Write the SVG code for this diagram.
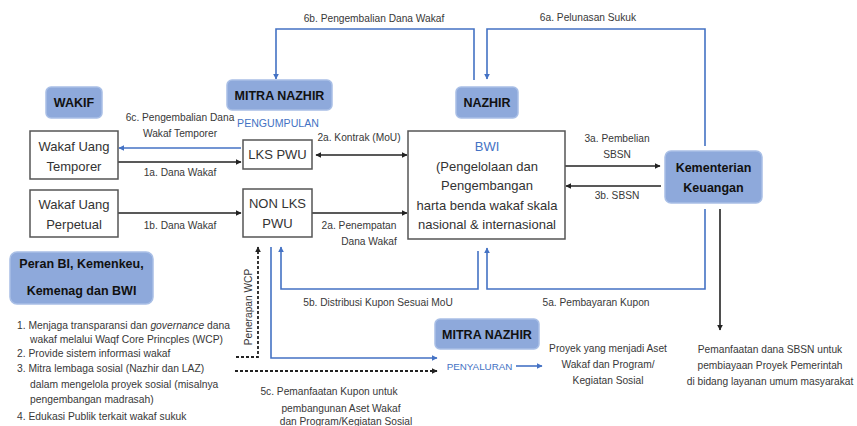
<svg xmlns="http://www.w3.org/2000/svg" width="857" height="426" viewBox="0 0 857 426">
<style>
text{font-family:"Liberation Sans",Arial,sans-serif;fill:#333}
.bx{fill:#fff;stroke:#555;stroke-width:1.5}
.bb{fill:#8EA9DB;stroke:#A9BFE6;stroke-width:1.5}
.hd{font-weight:bold;fill:#111;font-size:12.5px;text-anchor:middle}
.nd{font-size:13px;text-anchor:middle;fill:#333}
.lb{font-size:10.2px;text-anchor:middle;fill:#383838}
.li{font-size:10.3px;fill:#383838}
.k{fill:none;stroke:#222;stroke-width:1.6}
.b{fill:none;stroke:#4472C4;stroke-width:1.6}
.d{fill:none;stroke:#222;stroke-width:1.8;stroke-dasharray:3 2}
</style>
<defs>
<marker id="ak" viewBox="0 0 10 10" refX="9" refY="5" markerWidth="6" markerHeight="6" markerUnits="userSpaceOnUse" orient="auto-start-reverse"><path d="M0,0L10,5L0,10z" fill="#222"/></marker>
<marker id="ab" viewBox="0 0 10 10" refX="9" refY="5" markerWidth="6" markerHeight="6" markerUnits="userSpaceOnUse" orient="auto"><path d="M0,0L10,5L0,10z" fill="#4472C4"/></marker>
</defs>
<rect width="857" height="426" fill="#fff"/>
<g id="connectors">
<path class="b" d="M474,80V29H276V79" marker-end="url(#ab)"/>
<path class="b" d="M705,146V29H487V79" marker-end="url(#ab)"/>
<path class="b" d="M241,148H119" marker-end="url(#ab)"/>
<path class="k" d="M118,162H241" marker-end="url(#ak)"/>
<path class="k" d="M316,155H407" marker-start="url(#ak)" marker-end="url(#ak)"/>
<path class="k" d="M118,213H241" marker-end="url(#ak)"/>
<path class="k" d="M312,213H407" marker-end="url(#ak)"/>
<path class="k" d="M565,166H660" marker-end="url(#ak)"/>
<path class="k" d="M661,186H566" marker-end="url(#ak)"/>
<path class="b" d="M705,209V289H487V248" marker-end="url(#ab)"/>
<path class="b" d="M478,251V289H281V247" marker-end="url(#ab)"/>
<path class="b" d="M271,247V358H437" marker-end="url(#ab)"/>
<path class="d" d="M236,357H258V247" marker-end="url(#ak)"/>
<path class="d" d="M235,371H437" marker-end="url(#ak)"/>
<path class="k" d="M720,209V330" marker-end="url(#ak)"/>
<path class="b" d="M516,366H542" marker-end="url(#ab)"/>
<text class="lb" x="374" y="22">6b. Pengembalian Dana Wakaf</text>
<text class="lb" x="588" y="21">6a. Pelunasan Sukuk</text>
<text class="lb" x="180" y="121">6c. Pengembalian Dana</text>
<text class="lb" x="180" y="137">Wakaf Temporer</text>
<text class="lb" x="180" y="176">1a. Dana Wakaf</text>
<text class="lb" x="359" y="141">2a. Kontrak (MoU)</text>
<text class="lb" x="180" y="229">1b. Dana Wakaf</text>
<text class="lb" x="359" y="229">2a. Penempatan</text>
<text class="lb" x="369" y="245">Dana Wakaf</text>
<text class="lb" x="617" y="142">3a. Pembelian</text>
<text class="lb" x="617" y="158">SBSN</text>
<text class="lb" x="617" y="199">3b. SBSN</text>
<text class="lb" x="378" y="306">5b. Distribusi Kupon Sesuai MoU</text>
<text class="lb" x="596" y="306">5a. Pembayaran Kupon</text>
<text class="lb" transform="translate(252,307) rotate(-90)">Penerapan WCP</text>
<text class="lb" x="329" y="395">5c. Pemanfaatan Kupon untuk</text>
<text class="lb" x="341" y="412">pembangunan Aset Wakaf</text>
<text class="lb" x="346" y="425">dan Program/Kegiatan Sosial</text>
</g>
<g id="wakif"><rect class="bb" x="46" y="87" width="56" height="31" rx="5"/><text class="hd" x="74" y="107">WAKIF</text></g>
<g id="mitra-nazhir-pengumpulan"><rect class="bb" x="227" y="80" width="105" height="30" rx="5"/><text class="hd" x="279.5" y="100">MITRA NAZHIR</text><text x="278" y="127" font-size="10.6" text-anchor="middle" style="fill:#4472C4">PENGUMPULAN</text></g>
<g id="nazhir"><rect class="bb" x="456" y="87" width="62" height="31" rx="5"/><text class="hd" x="487" y="107">NAZHIR</text></g>
<g id="wakaf-temporer"><rect class="bx" x="30" y="131" width="88" height="48"/><text class="nd" x="74" y="151">Wakaf Uang</text><text class="nd" x="74" y="171">Temporer</text></g>
<g id="wakaf-perpetual"><rect class="bx" x="30" y="190" width="88" height="47"/><text class="nd" x="74" y="209">Wakaf Uang</text><text class="nd" x="74" y="229">Perpetual</text></g>
<g id="lks-pwu"><rect class="bx" x="243" y="140" width="69" height="29"/><text class="nd" x="277.5" y="159">LKS PWU</text></g>
<g id="non-lks-pwu"><rect class="bx" x="243" y="189" width="69" height="48"/><text class="nd" x="277.5" y="208">NON LKS</text><text class="nd" x="277.5" y="228">PWU</text></g>
<g id="bwi"><rect class="bx" x="408" y="131" width="157" height="108"/>
<text class="nd" x="487" y="151" style="fill:#4472C4">BWI</text>
<text class="nd" x="487" y="171">(Pengelolaan dan</text>
<text class="nd" x="487" y="190">Pengembangan</text>
<text class="nd" x="487" y="210">harta benda wakaf skala</text>
<text class="nd" x="487" y="229">nasional &amp; internasional</text></g>
<g id="kemenkeu"><rect class="bb" x="665" y="151" width="97" height="52" rx="6"/><text class="hd" x="713.5" y="172" font-size="13.5">Kementerian</text><text class="hd" x="713.5" y="192" font-size="13.5">Keuangan</text></g>
<g id="peran"><rect class="bb" x="10" y="252" width="143" height="52" rx="7"/><text class="hd" x="81.5" y="268" font-size="13.5">Peran BI, Kemenkeu,</text><text class="hd" x="81.5" y="295" font-size="13.5">Kemenag dan BWI</text>
<text class="li" x="17" y="329">1. Menjaga transparansi dan <tspan font-style="italic">governance</tspan> dana</text>
<text class="li" x="30" y="343">wakaf melalui Waqf Core Princples (WCP)</text>
<text class="li" x="17" y="357">2. Provide sistem informasi wakaf</text>
<text class="li" x="17" y="372">3. Mitra lembaga sosial (Nazhir dan LAZ)</text>
<text class="li" x="30" y="388">dalam mengelola proyek sosial (misalnya</text>
<text class="li" x="30" y="403">pengembangan madrasah)</text>
<text class="li" x="17" y="420">4. Edukasi Publik terkait wakaf sukuk</text></g>
<g id="mitra-nazhir-penyaluran"><rect class="bb" x="435" y="319" width="104" height="30" rx="5"/><text class="hd" x="487" y="339">MITRA NAZHIR</text><text x="479.5" y="370" font-size="9.8" text-anchor="middle" style="fill:#4472C4">PENYALURAN</text></g>
<g id="proyek"><text class="lb" x="608" y="352">Proyek yang menjadi Aset</text><text class="lb" x="608" y="368">Wakaf dan Program/</text><text class="lb" x="608" y="384">Kegiatan Sosial</text></g>
<g id="pemanfaatan"><text class="lb" x="770" y="353">Pemanfaatan dana SBSN untuk</text><text class="lb" x="770" y="369">pembiayaan Proyek Pemerintah</text><text class="lb" x="770" y="385">di bidang layanan umum masyarakat</text></g>
</svg>
